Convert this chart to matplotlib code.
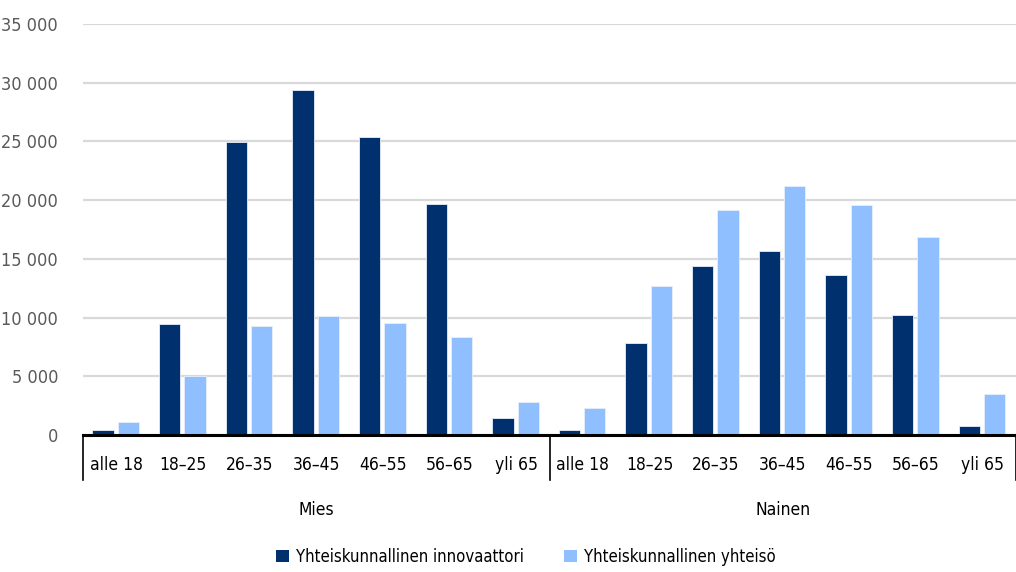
import numpy as np
import matplotlib.pyplot as plt
from matplotlib.patches import Patch
from matplotlib.ticker import FuncFormatter
from matplotlib.transforms import blended_transform_factory

plt.rcParams['font.family'] = ['DejaVu Sans']
plt.rcParams['font.stretch'] = 'condensed'

# Data
age_groups = ['alle 18', '18–25', '26–35', '36–45', '46–55', '56–65', 'yli 65']
genders = ['Mies', 'Nainen']
series_names = ['Yhteiskunnallinen innovaattori', 'Yhteiskunnallinen yhteisö']
innovaattori = [400, 9450, 24950, 29400, 25380, 19680, 1450,
                400, 7860, 14370, 15650, 13630, 10250, 800]
yhteiso = [1100, 5030, 9280, 10140, 9540, 8350, 2810,
           2330, 12660, 19170, 21210, 19590, 16870, 3520]

dark = '#00306e'
light = '#90bfff'
fs = 12

fig = plt.figure(figsize=(10.16, 5.72), dpi=100)
ax = fig.add_axes([83 / 1016, 1 - 435 / 572, 1 - 83 / 1016, (435 - 24) / 572])

x = np.arange(len(innovaattori))
w = 0.32
ax.bar(x - 0.2, innovaattori, w, color=dark, edgecolor='#e8eef8', linewidth=0.6, zorder=3)
ax.bar(x + 0.18, yhteiso, w, color=light, edgecolor='#e8eef8', linewidth=0.6, zorder=3)

ax.set_xlim(-0.5, len(x) - 0.5)
ax.set_ylim(0, 35000)
ax.set_yticks(np.arange(0, 35001, 5000))
ax.yaxis.set_major_formatter(FuncFormatter(lambda v, p: f'{int(v):,}'.replace(',', ' ')))
ax.grid(axis='y', color='#d9d9d9', linewidth=1.6, zorder=0)
ax.tick_params(axis='y', length=0, labelsize=fs + 1, labelcolor='#595959', pad=18)
for s in ['left', 'right', 'top']:
    ax.spines[s].set_visible(False)
ax.spines['bottom'].set_linewidth(2.2)
ax.spines['bottom'].set_color('black')
ax.spines['bottom'].set_zorder(4)

ax.set_xticks(x)
ax.set_xticklabels(age_groups * 2)
ax.tick_params(axis='x', length=0, labelsize=fs + 0.5, labelcolor='black', pad=15)

# category separators below the axis
tr = blended_transform_factory(ax.transData, ax.transAxes)
for sx in [-0.5, 6.5, 13.5]:
    ax.plot([sx, sx], [0, -0.11], color='black', linewidth=1.2, transform=tr, clip_on=False)

# group labels
for i, g in enumerate(genders):
    ax.text(3 + 7 * i, -0.183, g, transform=tr, ha='center', va='center', fontsize=fs + 0.5)

handles = [Patch(facecolor=dark), Patch(facecolor=light)]
fig.legend(handles, series_names, loc='center', bbox_to_anchor=(0.518, 0.026), ncol=2,
           frameon=False, fontsize=fs, handlelength=0.75, handleheight=0.75,
           handletextpad=0.45, columnspacing=2.4)

plt.savefig('out.png', dpi=100)
plt.close()
